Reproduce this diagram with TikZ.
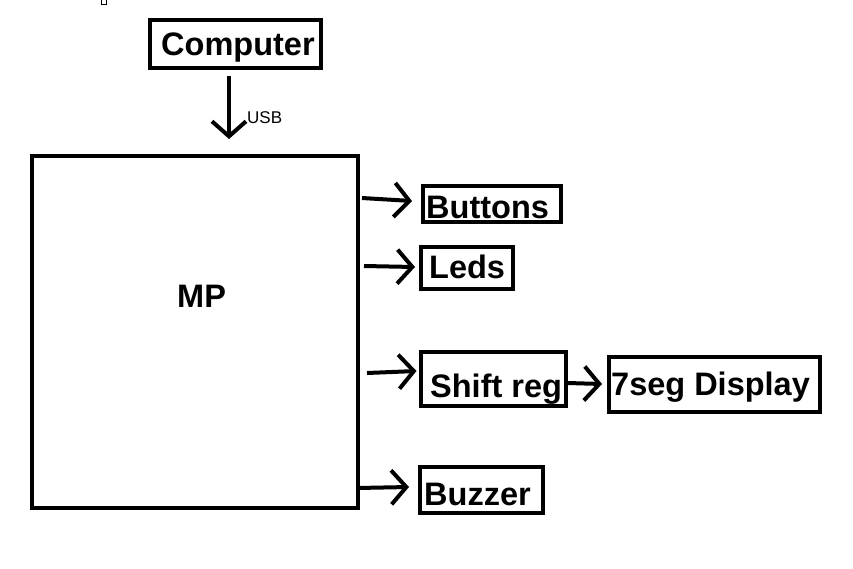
\documentclass[tikz,border=0pt]{standalone}
\usepackage{fontspec}
\setmainfont{Liberation Sans}
\usetikzlibrary{arrows.meta}
\begin{document}
\begin{tikzpicture}[x=1pt,y=-1pt,
  box/.style={draw, line width=4pt, rectangle, inner sep=0pt},
  lbl/.style={font=\fontsize{32.5}{38}\selectfont\bfseries, anchor=base west, inner sep=0pt},
  arr/.style={line width=4pt, -{Straight Barb[length=15pt,width=34pt]}}]
\useasboundingbox[fill=white] (0,0) rectangle (853,568);
% tiny mark at top
\draw[line width=0.8pt] (101,-1) rectangle (106,4);
% boxes
\node[box, minimum width=171pt, minimum height=48pt] (comp) at (235.5,44) {};
\node[box, minimum width=326pt, minimum height=352pt] (mp) at (195,332) {};
\node[box, minimum width=138pt, minimum height=36pt] (btn) at (492,204) {};
\node[box, minimum width=92pt, minimum height=42pt] (leds) at (467,268) {};
\node[box, minimum width=145pt, minimum height=54pt] (shift) at (493,379) {};
\node[box, minimum width=211pt, minimum height=55pt] (seg) at (714.5,384.5) {};
\node[box, minimum width=123pt, minimum height=46pt] (buzz) at (481.5,490) {};
% labels
\node[lbl] (tcomp) at (161,55) {Computer};
\node[lbl] (tmp) at (177,307) {MP};
\node[lbl] (tbtn) at (426,218) {Buttons};
\node[lbl] (tleds) at (429,278) {Leds};
\node[lbl] (tshift) at (430,397) {Shift reg};
\node[lbl] (tseg) at (611,395) {7seg Display};
\node[lbl] (tbuzz) at (424,505) {Buzzer};
\node[font=\fontsize{17}{20}\selectfont, anchor=base west, inner sep=0pt] (usb) at (247,123) {USB};
% connectors
\draw[arr] ([xshift=-6.5pt,yshift=-6pt]comp.south) -- ([xshift=-6.5pt,yshift=15pt]comp.south |- mp.north);
\draw[arr] ([xshift=2pt]mp.east |- 0,198) -- ([xshift=-9pt]btn.west |- 0,201);
\draw[arr] ([xshift=4pt]mp.east |- 0,266) -- ([xshift=-4pt]leds.west |- 0,267);
\draw[arr] ([xshift=7pt]mp.east |- 0,373) -- ([xshift=-2pt]shift.west |- 0,371);
\draw[arr] (shift.east |- 0,383) -- ([xshift=-5pt]seg.west |- 0,384);
\draw[arr] ([xshift=-3pt]mp.east |- 0,488) -- ([xshift=-9pt]buzz.west |- 0,487);
\end{tikzpicture}
\end{document}
